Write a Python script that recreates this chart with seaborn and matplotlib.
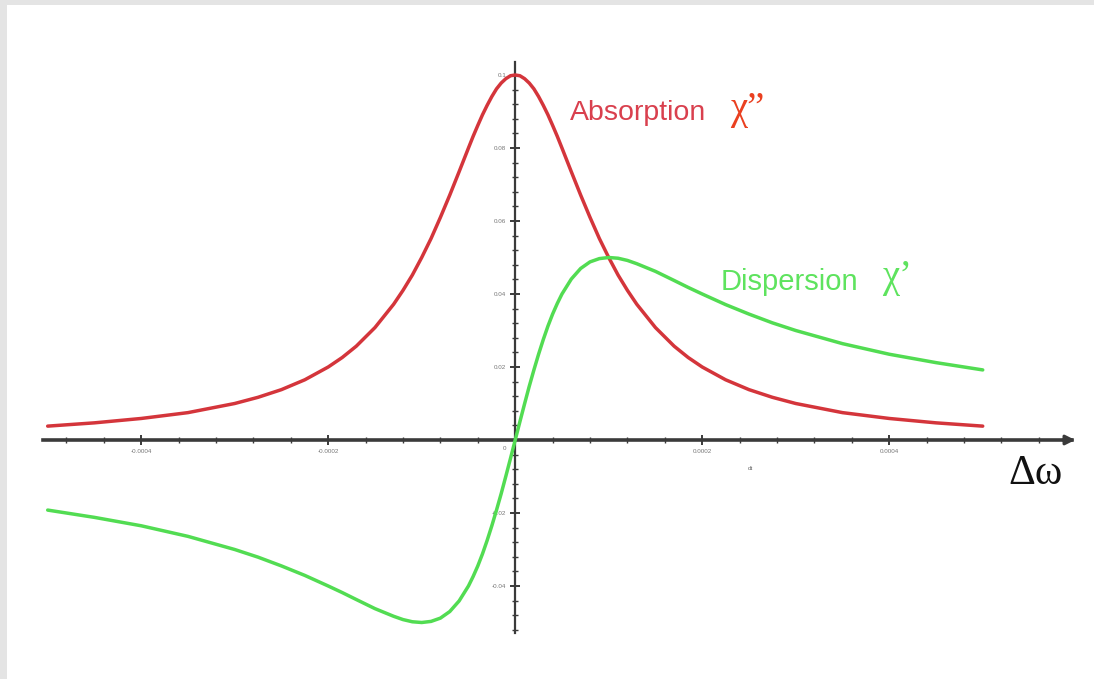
import matplotlib
matplotlib.use("Agg")
import matplotlib.pyplot as plt
from matplotlib.patches import Rectangle
from matplotlib.ticker import FixedLocator, FixedFormatter
import numpy as np
import seaborn as sns

# ---- data ----
delta_omega = [-0.0005, -0.00045, -0.0004, -0.00035, -0.0003, -0.000275, -0.00025,
               -0.000225, -0.0002, -0.000185, -0.00017, -0.00015, -0.00013, -0.00012,
               -0.00011, -0.0001, -0.00009, -0.00008, -0.00007, -0.00006, -0.00005,
               -0.000045, -0.00004, -0.000035, -0.00003, -0.000025, -0.00002,
               -0.000015, -0.00001, -0.000005,
               0.0,
               0.000005, 0.00001, 0.000015, 0.00002, 0.000025, 0.00003, 0.000035,
               0.00004, 0.000045, 0.00005, 0.00006, 0.00007, 0.00008, 0.00009,
               0.0001, 0.00011, 0.00012, 0.00013, 0.00015, 0.00017, 0.000185,
               0.0002, 0.000225, 0.00025, 0.000275, 0.0003, 0.00035, 0.0004,
               0.00045, 0.0005]
absorption = [0.0038, 0.0047, 0.0059, 0.0075, 0.0100, 0.0117, 0.0138,
              0.0165, 0.0200, 0.0226, 0.0257, 0.0308, 0.0372, 0.0410,
              0.0452, 0.0500, 0.0552, 0.0610, 0.0671, 0.0735, 0.0800,
              0.0832, 0.0862, 0.0891, 0.0917, 0.0941, 0.0962,
              0.0978, 0.0990, 0.0998,
              0.1000,
              0.0998, 0.0990, 0.0978, 0.0962, 0.0941, 0.0917, 0.0891,
              0.0862, 0.0832, 0.0800, 0.0735, 0.0671, 0.0610, 0.0552,
              0.0500, 0.0452, 0.0410, 0.0372, 0.0308, 0.0257, 0.0226,
              0.0200, 0.0165, 0.0138, 0.0117, 0.0100, 0.0075, 0.0059,
              0.0047, 0.0038]
dispersion = [-0.0192, -0.0212, -0.0235, -0.0264, -0.0300, -0.0321, -0.0345,
              -0.0371, -0.0400, -0.0418, -0.0437, -0.0462, -0.0483, -0.0492,
              -0.0498, -0.0500, -0.0497, -0.0488, -0.0470, -0.0441, -0.0400,
              -0.0374, -0.0345, -0.0312, -0.0275, -0.0235, -0.0192,
              -0.0147, -0.0099, -0.0050,
              0.0,
              0.0050, 0.0099, 0.0147, 0.0192, 0.0235, 0.0275, 0.0312,
              0.0345, 0.0374, 0.0400, 0.0441, 0.0470, 0.0488, 0.0497,
              0.0500, 0.0498, 0.0492, 0.0483, 0.0462, 0.0437, 0.0418,
              0.0400, 0.0371, 0.0345, 0.0321, 0.0300, 0.0264, 0.0235,
              0.0212, 0.0192]

x_ticks = [-0.0004, -0.0002, 0.0002, 0.0004]
x_tick_labels = ["-0.0004", "-0.0002", "0.0002", "0.0004"]
y_ticks = [-0.04, -0.02, 0.02, 0.04, 0.06, 0.08, 0.1]
y_tick_labels = ["-0.04", "-0.02", "0.02", "0.04", "0.06", "0.08", "0.1"]

sns.set_theme(style="white")
plt.rcParams['font.family'] = ['Liberation Sans', 'DejaVu Sans']

W, H = 1094, 679
fig = plt.figure(figsize=(W / 100, H / 100), dpi=100, facecolor="#e4e4e4")
fig.patches.append(Rectangle((7 / W, 0), 1, 1 - 5 / H, transform=fig.transFigure,
                             facecolor="white", edgecolor="none", zorder=-10))

ax = fig.add_axes([0, 0, 1, 1])
ax.set_zorder(5)
ax.set_facecolor("none")
ax.patch.set_alpha(0)
ax.set_xlim(-0.000551, 0.000619)
ax.set_ylim(-0.06548, 0.12055)

sns.lineplot(x=delta_omega, y=absorption, color="#d4353b", linewidth=2.5, ax=ax, zorder=4)
sns.lineplot(x=delta_omega, y=dispersion, color="#52dc52", linewidth=2.5, ax=ax, zorder=5)

# axes through origin
x_lo, x_hi = -0.000505, 0.000595
y_lo, y_hi = -0.0529, 0.1036
for s in ["top", "right"]:
    ax.spines[s].set_visible(False)
ax.spines["left"].set_position("zero")
ax.spines["bottom"].set_position("zero")
ax.spines["left"].set_bounds(y_lo, y_hi)
ax.spines["bottom"].set_bounds(x_lo, x_hi)
ax.spines["left"].set_color("#3a3a3a")
ax.spines["bottom"].set_color("#3a3a3a")
ax.spines["left"].set_linewidth(1.6)
ax.spines["bottom"].set_linewidth(2.6)
ax.spines["left"].set_zorder(3)
ax.spines["bottom"].set_zorder(3)

ax.xaxis.set_major_locator(FixedLocator(x_ticks))
ax.xaxis.set_major_formatter(FixedFormatter(x_tick_labels))
ax.yaxis.set_major_locator(FixedLocator(y_ticks))
ax.yaxis.set_major_formatter(FixedFormatter(y_tick_labels))
x_minor = [v for v in np.arange(-0.00048, 0.00058, 0.00004) if abs(v) > 1e-9]
y_minor = [v for v in np.arange(-0.052, 0.1037, 0.004) if abs(v) > 1e-9]
ax.xaxis.set_minor_locator(FixedLocator(x_minor))
ax.yaxis.set_minor_locator(FixedLocator(y_minor))
ax.tick_params(which="major", direction="inout", length=7, width=1.4, color="#3a3a3a",
               labelsize=4.5, labelcolor="#777777", pad=3,
               bottom=True, left=True)
ax.tick_params(which="minor", direction="inout", length=4, width=1.0, color="#3a3a3a",
               bottom=True, left=True)
ax.grid(False)

# arrow head on the horizontal axis
ax.annotate("", xy=(1078 / W, 1 - 440 / H), xytext=(1060 / W, 1 - 440 / H),
            xycoords="axes fraction", textcoords="axes fraction",
            arrowprops=dict(arrowstyle="-|>", color="#3a3a3a", lw=2.2,
                            mutation_scale=14), zorder=6)

ax.annotate("0", xy=(0, 0), xytext=(-8, -6), textcoords="offset points",
            fontsize=4.5, color="#777777", ha="center", va="center")
ax.text(750 / W, 1 - 469 / H, "dt", transform=ax.transAxes, fontsize=4.5,
        color="#666666", ha="center", va="center")

ax.text(1035 / W, 1 - 474 / H, "Δω", transform=ax.transAxes, fontsize=30,
        family=["Liberation Serif", "DejaVu Serif"], color="#111111",
        ha="center", va="center")

ax.text(570 / W, 1 - 113 / H, "Absorption", transform=ax.transAxes, fontsize=20.5,
        color="#d9404e", ha="left", va="center")
ax.text(730 / W, 1 - 110 / H, "χ”", transform=ax.transAxes, fontsize=28,
        family=["Liberation Serif", "DejaVu Serif"], color="#ea4020",
        ha="left", va="center")
ax.text(721 / W, 1 - 282 / H, "Dispersion", transform=ax.transAxes, fontsize=21,
        color="#5ee35e", ha="left", va="center")
ax.text(882 / W, 1 - 277 / H, "χ’", transform=ax.transAxes, fontsize=28,
        family=["Liberation Serif", "DejaVu Serif"], color="#5ee35e",
        ha="left", va="center")

fig.savefig("out.png", dpi=100, facecolor=fig.get_facecolor())
